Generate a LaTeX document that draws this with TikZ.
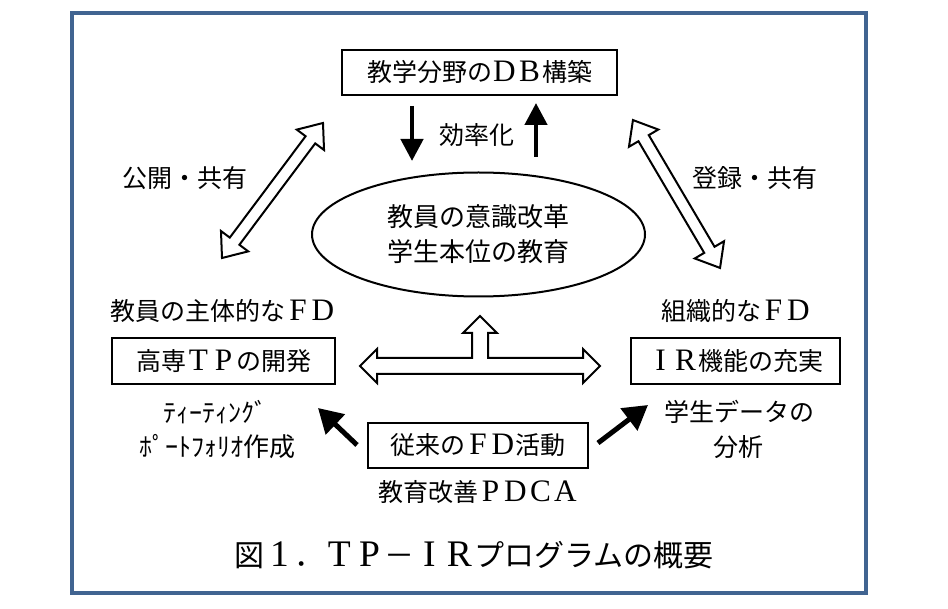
\documentclass[tikz,border=0pt]{standalone}
\usepackage{fontspec}
\setmainfont{Noto Sans CJK JP}
\newfontfamily\latfont[Scale=1.25]{Liberation Serif}
\usetikzlibrary{arrows.meta,shapes.geometric}
\definecolor{framecol}{RGB}{65,100,145}
\newcommand\fw[1]{\fwloop#1\relax}
\def\fwloop#1{\ifx\relax#1\else\makebox[1em][c]{\latfont #1}\expandafter\fwloop\fi}
\newcommand\hollowdbl[4]{%
  \begin{scope}[shift={(#1,#2)},rotate=#3]
    \draw[hollow] (-#4,0) -- (-#4+21,17) -- (-#4+21,6) -- (#4-21,6) -- (#4-21,17)
      -- (#4,0) -- (#4-21,-17) -- (#4-21,-6) -- (-#4+21,-6) -- (-#4+21,-17) -- cycle;
  \end{scope}}
\begin{document}
\begin{tikzpicture}[x=1pt,y=-1pt,
  txt/.style={inner sep=0pt,align=center,font=\fontsize{25}{34}\selectfont},
  boxed/.style={draw,line width=2.2pt,inner sep=0pt,align=center,font=\fontsize{25}{30}\selectfont},
  hollow/.style={draw,fill=white,line width=2pt,line join=miter},
  solidarrow/.style={line width=4.5pt,-{Triangle[width=22pt,length=22pt]}},
  diagarrow/.style={line width=5pt,-{Triangle[width=27pt,length=24pt]}}]
\useasboundingbox (0,0) rectangle (948,609);
\fill[white] (0,0) rectangle (948,609);
\draw[framecol,line width=4pt] (72,13) rectangle (866,593);

% top box
\node[boxed,minimum width=275pt,minimum height=45pt] (db) at (479.5,72.5) {教学分野の\fw{DB}構築};
% ellipse
\node[draw,ellipse,line width=2pt,minimum width=333pt,minimum height=124pt,inner sep=0pt,
  align=center,font=\fontsize{26}{35}\selectfont] (ell) at (478.5,234.5) {教員の意識改革\\学生本位の教育};

% efficiency arrows
\coordinate (dA) at (412,106);
\coordinate (dB) at (412,161);
\coordinate (uA) at (536,157);
\coordinate (uB) at (536,103);
\draw[solidarrow] (dA) -- (dB);
\draw[solidarrow] (uA) -- (uB);
\node[txt] (eff) at (477,135) {効率化};

% diagonal hollow double arrows
\hollowdbl{272.5}{190.5}{53.2}{84.3}
\hollowdbl{676.5}{194}{-59.5}{85.8}
\node[txt] (pub) at (185,178) {公開・共有};
\node[txt] (reg) at (755,178) {登録・共有};

% left / right
\node[txt] (lfd) at (223,311) {教員の主体的な\fw{FD}};
\node[boxed,minimum width=223pt,minimum height=46pt] (tp) at (223.5,361) {高専\fw{TP}の開発};
\node[txt] (rfd) at (736,311) {組織的な\fw{FD}};
\node[boxed,minimum width=209pt,minimum height=46pt] (ir) at (735.5,361) {\fw{IR}機能の充実};

% T-shaped hollow arrow
\draw[hollow] (360,366) -- (377,349) -- (377,358) -- (472,358) -- (472,333) -- (463,333)
  -- (480,316) -- (497,333) -- (488,333) -- (488,358) -- (583,358) -- (583,349)
  -- (600,366) -- (583,383) -- (583,374) -- (377,374) -- (377,383) -- cycle;

% bottom
\node[boxed,minimum width=220pt,minimum height=45pt] (fd) at (478,445.5) {従来の\fw{FD}活動};
\node[txt] (pdca) at (478,492) {教育改善\fw{PDCA}};
\node[txt,font=\fontsize{26}{34}\selectfont] (tl1) at (215,412) {ﾃｨｰﾃｨﾝｸﾞ};
\node[txt,font=\fontsize{26}{34}\selectfont] (tl2) at (217,447) {ﾎﾟｰﾄﾌｫﾘｵ作成};
\node[txt] (tr1) at (739,412) {学生データの};
\node[txt] (tr2) at (738,447) {分析};

\coordinate (lA) at (357,445);
\coordinate (lB) at (318,408);
\coordinate (rA) at (598,443);
\coordinate (rB) at (648,405);
\draw[diagarrow] (lA) -- (lB);
\draw[diagarrow] (rA) -- (rB);

% caption
\node[txt,font=\fontsize{30}{36}\selectfont] (cap) at (474,555) {図\fw{1}．\fw{TP}－\fw{IR}プログラムの概要};
\end{tikzpicture}
\end{document}
